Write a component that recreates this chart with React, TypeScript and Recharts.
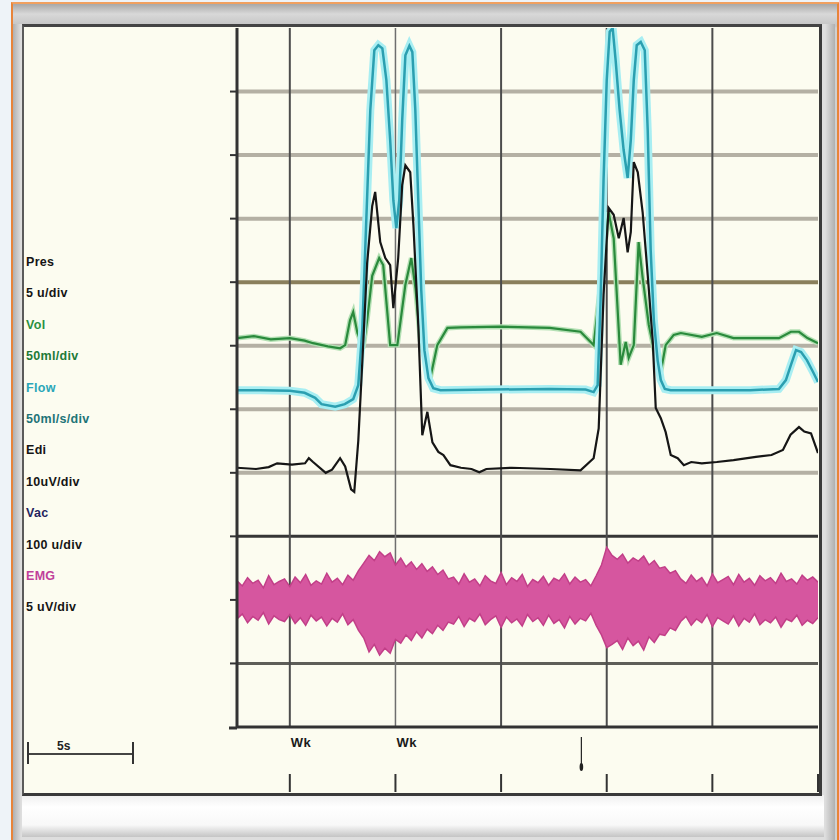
import React from "react";
import { ComposedChart, Line, Area, XAxis, YAxis, CartesianGrid } from "recharts";

// ---- data (time in s, values in grid divisions) ----
const flowTrace: number[][] = [
  [0, 5.3], [1.1, 5.3], [2.5, 5.29], [3.2, 5.26], [3.7, 5.18], [4.0, 5.08], [4.65, 5.04], [5.1, 5.08], [5.5, 5.16],
  [5.74, 5.38], [5.93, 6.25], [6.12, 7.98], [6.31, 9.71], [6.5, 10.65], [6.69, 10.73], [6.88, 10.68], [7.07, 10.18],
  [7.25, 9.24], [7.4, 8.29], [7.54, 7.85], [7.68, 8.29], [7.82, 9.55], [7.97, 10.57], [8.16, 10.72], [8.3, 10.62],
  [8.44, 9.71], [8.58, 8.29], [8.72, 6.88], [8.87, 5.93], [9.06, 5.49], [9.29, 5.33], [9.63, 5.3], [12, 5.31],
  [14.8, 5.32], [16.5, 5.31], [16.88, 5.27], [17.07, 5.38], [17.21, 6.72], [17.35, 8.61], [17.5, 10.18],
  [17.64, 10.94], [17.78, 11], [17.92, 10.5], [18.11, 9.71], [18.3, 9.08], [18.49, 8.64], [18.64, 9.24],
  [18.78, 10.18], [18.92, 10.73], [19.11, 10.78], [19.3, 10.65], [19.44, 9.39], [19.58, 7.51], [19.73, 6.4],
  [19.91, 5.77], [20.06, 5.46], [20.25, 5.32], [20.53, 5.3], [22, 5.3], [24.3, 5.3], [25.65, 5.32], [25.98, 5.46],
  [26.22, 5.7], [26.46, 5.93], [26.7, 5.9], [26.98, 5.77], [27.26, 5.59], [27.5, 5.43],
];

const volumeTrace: number[][] = [
  [0, 6.12], [0.8, 6.15], [1.6, 6.1], [2.5, 6.12], [3.2, 6.08], [3.6, 6.04], [4.3, 5.99], [4.88, 5.96], [5.12, 6.01],
  [5.35, 6.4], [5.5, 6.53], [5.7, 6.2], [5.97, 5.96], [6.16, 6.4], [6.4, 7.1], [6.73, 7.38], [6.92, 7.27],
  [7.25, 6.01], [7.59, 6.01], [7.97, 6.96], [8.25, 7.38], [8.45, 6.9], [8.68, 6.06], [9.15, 5.49], [9.48, 6.01],
  [9.96, 6.28], [10.6, 6.29], [12.5, 6.3], [14.8, 6.28], [16.26, 6.22], [16.88, 6.01], [17.35, 7.38], [17.59, 8.1],
  [17.83, 7.69], [18.16, 5.7], [18.4, 6.06], [18.54, 5.81], [18.78, 6.01], [19.01, 7.63], [19.2, 7.07],
  [19.49, 6.33], [19.82, 5.81], [20.06, 5.59], [20.29, 6.01], [20.67, 6.17], [21.01, 6.2], [22, 6.14],
  [22.71, 6.2], [23.5, 6.12], [24.5, 6.12], [25.65, 6.12], [26.22, 6.22], [26.6, 6.22], [27, 6.12], [27.5, 6.04],
];

const ediTrace: number[][] = [
  [0, 4.08], [0.9, 4.06], [1.5, 4.09], [1.9, 4.15], [2.6, 4.13], [3.22, 4.15], [3.4, 4.23], [3.6, 4.17], [4.2, 4.0],
  [4.5, 4.05], [4.88, 4.23], [5.12, 4.1], [5.4, 3.74], [5.55, 3.7], [5.74, 4.5], [5.97, 6.0], [6.16, 7.3],
  [6.4, 8.2], [6.54, 8.42], [6.78, 7.63], [7.02, 7.38], [7.25, 7.27], [7.4, 6.59], [7.63, 7.38], [7.82, 8.53],
  [7.97, 8.84], [8.2, 8.73], [8.35, 7.9], [8.58, 6.33], [8.77, 4.59], [9.01, 4.96], [9.25, 4.48], [9.53, 4.33],
  [9.77, 4.28], [10.1, 4.12], [10.6, 4.08], [11.1, 4.06], [11.47, 4.01], [11.8, 4.06], [13, 4.08], [14.84, 4.06],
  [16.26, 4.04], [16.88, 4.23], [17.12, 4.7], [17.35, 6.8], [17.59, 8.17], [17.83, 8.06], [18.07, 7.69],
  [18.3, 8.01], [18.49, 7.47], [18.64, 7.79], [18.78, 8.89], [18.97, 8.73], [19.2, 8.1], [19.44, 7.11],
  [19.68, 6.06], [19.82, 5.02], [20.06, 4.86], [20.29, 4.64], [20.53, 4.28], [20.86, 4.23], [21.15, 4.12],
  [21.5, 4.17], [22, 4.15], [22.71, 4.17], [23.5, 4.2], [24.56, 4.25], [25.3, 4.28], [25.84, 4.36], [26.2, 4.6],
  [26.6, 4.72], [26.85, 4.65], [27.17, 4.62], [27.5, 4.31],
];

const emgStep = 0.25;
const emgHigh: number[] = [
  2.30, 2.22, 2.35, 2.26, 2.31, 2.19, 2.38, 2.24, 2.29, 2.33, 2.21, 2.36, 2.27, 2.40, 2.23, 2.30, 2.25, 2.42, 2.28, 2.34, 2.24, 2.39, 2.31,
  2.46, 2.58,
  2.70, 2.62, 2.76, 2.68, 2.74, 2.55,
  2.66, 2.52, 2.60, 2.48, 2.57, 2.45, 2.52,
  2.40, 2.47, 2.33,
  2.36, 2.25, 2.41, 2.28, 2.33, 2.22, 2.38, 2.30, 2.26, 2.43, 2.24, 2.35, 2.29, 2.40, 2.21, 2.32, 2.27, 2.37, 2.23, 2.34, 2.30, 2.41, 2.25, 2.36, 2.28, 2.32, 2.22, 2.38,
  2.55, 2.83, 2.70,
  2.64, 2.72, 2.58, 2.66, 2.61, 2.69, 2.55, 2.62, 2.50,
  2.52, 2.42, 2.46,
  2.33, 2.26, 2.39, 2.29, 2.35, 2.22, 2.41, 2.27, 2.32, 2.37, 2.24, 2.40, 2.28, 2.34, 2.23, 2.38, 2.30, 2.35, 2.26, 2.42, 2.29, 2.33, 2.25, 2.39, 2.31, 2.36, 2.28,
];
const emgLow: number[] = [
  1.70, 1.78, 1.64, 1.74, 1.68, 1.80, 1.62, 1.75, 1.69, 1.66, 1.77, 1.63, 1.72, 1.60, 1.76, 1.67, 1.73, 1.59, 1.71, 1.65, 1.78, 1.61, 1.69,
  1.52, 1.40,
  1.18, 1.30, 1.13, 1.24, 1.16, 1.38,
  1.32, 1.45, 1.36, 1.50, 1.40, 1.54, 1.47,
  1.60, 1.52, 1.65,
  1.62, 1.74, 1.58, 1.71, 1.66, 1.78, 1.61, 1.69, 1.75, 1.57, 1.73, 1.64, 1.70, 1.59, 1.77, 1.66, 1.72, 1.60, 1.76, 1.63, 1.69, 1.56, 1.74, 1.62, 1.71, 1.67, 1.79, 1.60,
  1.45, 1.25, 1.30,
  1.36, 1.22, 1.40, 1.28, 1.35, 1.21, 1.42, 1.33, 1.46,
  1.44, 1.56, 1.52,
  1.66, 1.74, 1.60, 1.70, 1.64, 1.77, 1.58, 1.72, 1.67, 1.62, 1.75, 1.59, 1.71, 1.65, 1.78, 1.61, 1.69, 1.64, 1.73, 1.57, 1.70, 1.66, 1.76, 1.60, 1.68, 1.63, 1.72,
];

const channelLabels = [
  { text: "Pres", color: "#151515" },
  { text: "5 u/div", color: "#151515" },
  { text: "Vol", color: "#2a9040" },
  { text: "50ml/div", color: "#1e7a38" },
  { text: "Flow", color: "#2aa6b8" },
  { text: "50ml/s/div", color: "#1e7478" },
  { text: "Edi", color: "#151515" },
  { text: "10uV/div", color: "#151515" },
  { text: "Vac", color: "#24245e" },
  { text: "100 u/div", color: "#151515" },
  { text: "EMG", color: "#c0409a" },
  { text: "5 uV/div", color: "#151515" },
];

const gridTimes = [2.5, 7.5, 12.5, 17.5, 22.5, 27.5];
const gridTimeLabels = ["Wk", "Wk", "", "", "", ""];
const eventTimes = [16.3];
const yTicks = [1, 2, 3, 4, 5, 6, 7, 8, 9, 10];
const scaleBarLabel = "5s";

// ---- derived series ----
const toPts = (arr: number[][]) => arr.map(([t, v]) => ({ t, v }));
const flowData = toPts(flowTrace);
const volData = toPts(volumeTrace);
const ediData = toPts(ediTrace);
const emgData = emgHigh.map((h, i) => ({ t: i * emgStep, emg: [emgLow[i], h] }));
const allXTicks = [...gridTimes, ...eventTimes].sort((a, b) => a - b);

const FONT = "'Liberation Sans', Arial, sans-serif";

const EmptyTick = () => <g />;

const BottomTick = (props: any) => {
  const { x, y, payload } = props;
  const val = payload.value;
  if (eventTimes.includes(val)) {
    return (
      <g>
        <line x1={x} x2={x} y1={y + 10} y2={y + 38} stroke="#222" strokeWidth={1.2} />
        <ellipse cx={x} cy={y + 40} rx={1.8} ry={4} fill="#222" />
      </g>
    );
  }
  const idx = gridTimes.indexOf(val);
  const label = idx >= 0 ? gridTimeLabels[idx] : "";
  return (
    <g>
      {label ? (
        <text x={x + 1} y={y + 20} fontFamily={FONT} fontSize={13} fontWeight="bold" fill="#1a1a1a" letterSpacing={0.5}>
          {label}
        </text>
      ) : null}
      <line x1={x} x2={x} y1={y + 47} y2={y + 65} stroke="#333" strokeWidth={2} />
    </g>
  );
};

export default function App() {
  return (
    <div style={{ position: "absolute", left: 0, top: 0, width: 839, height: 840, background: "#eef3f8", overflow: "hidden" }}>
      {/* outer orange frame with bevel */}
      <div
        style={{
          position: "absolute", left: 11, top: 2, width: 824, height: 840,
          borderLeft: "2px solid #e8843a", borderRight: "3px solid #e8843a", borderTop: "2px solid #f0a060",
          background: "linear-gradient(to bottom, #a8a8a8 0px, #d8d8d8 10px, #c4c4c4 22px, #d0d0d0 24px)",
        }}
      />
      <div style={{ position: "absolute", left: 13, top: 24, width: 822, height: 816, background: "linear-gradient(to right, #b0b0b0, #dedede 8px, #dedede 812px, #b0b0b0)" }} />
      <div style={{ position: "absolute", left: 22, top: 795, width: 802, height: 42, background: "linear-gradient(to bottom, #f0f0f0, #ffffff 12px, #f8f8f8 30px, #c4c4c4)" }} />
      {/* cream panel */}
      <div style={{ position: "absolute", left: 22, top: 24, width: 795, height: 766, background: "#fcfcf0", borderLeft: "2px solid #5a5a5a", borderTop: "3px solid #444", borderBottom: "3px solid #3a3a3a", borderRight: "3px solid #3a3a3a" }} />

      <div style={{ position: "absolute", left: 0, top: 0 }}>
        <ComposedChart width={839} height={840} margin={{ top: 28, right: 21, bottom: 0, left: 0 }}>
          <CartesianGrid vertical={false} horizontalValues={[4, 5, 6, 8, 9, 10]} stroke="#b4b0a4" strokeWidth={4} />
          <CartesianGrid vertical={false} horizontalValues={[7]} stroke="#8a7f5c" strokeWidth={4} />
          <CartesianGrid vertical={false} horizontalValues={[3]} stroke="#363636" strokeWidth={3} />
          <CartesianGrid vertical={false} horizontalValues={[1]} stroke="#5e5e58" strokeWidth={3} />
          <CartesianGrid vertical={false} horizontalValues={[2]} stroke="#a09e96" strokeWidth={3} />
          <CartesianGrid horizontal={false} verticalValues={[2.5, 12.5, 17.5, 22.5]} stroke="#4c4c4c" strokeWidth={2} />
          <CartesianGrid horizontal={false} verticalValues={[7.5]} stroke="#6e6e6e" strokeWidth={1.5} />
          <XAxis
            type="number" dataKey="t" domain={[0, 27.5]} ticks={allXTicks} interval={0} height={113}
            tickLine={false} tickSize={0} tickMargin={0} axisLine={{ stroke: "#333", strokeWidth: 3 }}
            tick={<BottomTick />} allowDataOverflow
          />
          <YAxis
            type="number" domain={[0, 11]} ticks={yTicks} width={237} tick={<EmptyTick />} tickSize={7}
            tickLine={{ stroke: "#333", strokeWidth: 2 }} axisLine={{ stroke: "#333", strokeWidth: 3 }} allowDataOverflow
          />
          <Area data={emgData} dataKey="emg" type="linear" fill="#d6569f" fillOpacity={1} stroke="#c23f88" strokeWidth={1.5} isAnimationActive={false} dot={false} activeDot={false} />
          <Line data={volData} dataKey="v" type="linear" stroke="#b4e0b4" strokeWidth={5} dot={false} activeDot={false} isAnimationActive={false} />
          <Line data={volData} dataKey="v" type="linear" stroke="#2a8a3c" strokeWidth={2.2} dot={false} activeDot={false} isAnimationActive={false} />
          <Line data={flowData} dataKey="v" type="linear" stroke="#a8eef2" strokeWidth={8} dot={false} activeDot={false} isAnimationActive={false} />
          <Line data={flowData} dataKey="v" type="linear" stroke="#2b9fb0" strokeWidth={2.5} dot={false} activeDot={false} isAnimationActive={false} />
          <Line data={ediData} dataKey="v" type="linear" stroke="#161616" strokeWidth={2.2} dot={false} activeDot={false} isAnimationActive={false} />
        </ComposedChart>
      </div>

      {/* labels & scale bar */}
      <svg width={839} height={840} style={{ position: "absolute", left: 0, top: 0, pointerEvents: "none" }}>
        {channelLabels.map((l, i) => (
          <text key={i} x={26} y={266 + i * 31.4} fontFamily={FONT} fontSize={12.5} fontWeight="bold" fill={l.color} letterSpacing={0.3}>
            {l.text}
          </text>
        ))}
        <line x1={229} x2={237} y1={728} y2={728} stroke="#333" strokeWidth={3} />
        <line x1={28} x2={133} y1={754} y2={754} stroke="#444" strokeWidth={2} />
        <line x1={28} x2={28} y1={742} y2={764} stroke="#333" strokeWidth={2} />
        <line x1={133} x2={133} y1={742} y2={764} stroke="#333" strokeWidth={2} />
        <text x={57} y={750} fontFamily={FONT} fontSize={12} fontWeight="bold" fill="#222">{scaleBarLabel}</text>
      </svg>
    </div>
  );
}
